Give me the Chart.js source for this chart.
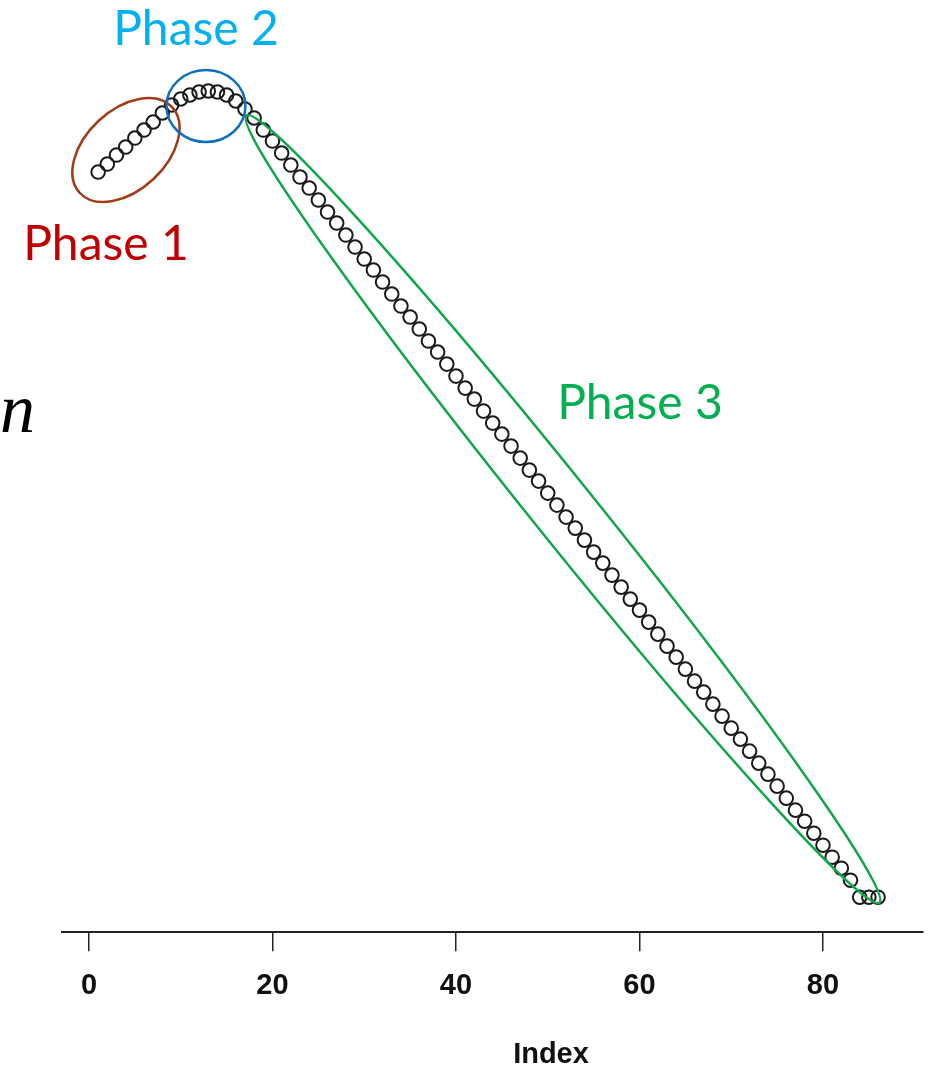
<!DOCTYPE html>
<html lang="en">
<head>
<meta charset="UTF-8">
<title>Index plot - three phases</title>
<script src="https://cdn.jsdelivr.net/npm/chart.js"></script>
<style>
    body { margin: 0; padding: 0; background: #fff; }
    .container { width: 934px; height: 1073px; position: relative; }
</style>
</head>
<body>
<div class="container">
    <canvas id="myChart"></canvas>
</div>
<script>
// x positions (Index) of every point
const indexValues = [
    1, 2, 3, 4, 5, 6, 7, 8, 9, 10, 11, 12, 13, 14, 15, 16, 17, 18, 19, 20,
    21, 22, 23, 24, 25, 26, 27, 28, 29, 30, 31, 32, 33, 34, 35, 36, 37, 38, 39, 40,
    41, 42, 43, 44, 45, 46, 47, 48, 49, 50, 51, 52, 53, 54, 55, 56, 57, 58, 59, 60,
    61, 62, 63, 64, 65, 66, 67, 68, 69, 70, 71, 72, 73, 74, 75, 76, 77, 78, 79, 80,
    81, 82, 83, 84, 85, 86
];

// values, split by phase
const phase1Values = [76.8, 77.6, 78.5, 79.3, 80.2, 81.0, 81.8, 82.7, 83.5];
const phase2Values = [84.1, 84.5, 84.8, 84.9, 84.8, 84.5, 83.9, 83.1];
const phase3Values = [
    82.2, 81.0, 79.9, 78.7, 77.5, 76.3, 75.2, 74.0, 72.8, 71.7,
    70.5, 69.3, 68.1, 67.0, 65.8, 64.6, 63.4, 62.3, 61.1, 59.9,
    58.8, 57.6, 56.4, 55.2, 54.1, 52.9, 51.7, 50.6, 49.4, 48.2,
    47.0, 45.9, 44.7, 43.5, 42.3, 41.2, 40.0, 38.8, 37.7, 36.5,
    35.3, 34.1, 33.0, 31.8, 30.6, 29.4, 28.3, 27.1, 25.9, 24.8,
    23.6, 22.4, 21.2, 20.1, 18.9, 17.7, 16.6, 15.4, 14.2, 13.0,
    11.9, 10.7, 9.5, 8.3, 7.2, 6.0, 4.3, 4.3, 4.3
];

const xTickValues = [0, 20, 40, 60, 80];
const phaseNames = ['Phase 1', 'Phase 2', 'Phase 3'];

const allValues = phase1Values.concat(phase2Values, phase3Values);
const points = indexValues.map((ix, i) => ({ x: ix, y: allValues[i] }));

// ellipses + labels, centres given in data units
const phaseMarks = [
    { name: phaseNames[0], cx: 4.03, cy: 79.0, rx: 63, ry: 40, rot: -43, ring: '#A13C16',
      text: '#C00000', tx: 1.85, ty: 68.0 },
    { name: phaseNames[1], cx: 12.75, cy: 83.4, rx: 39.5, ry: 36, rot: 0, ring: '#0E6FC1',
      text: '#00B0F0', tx: 11.66, ty: 89.5 },
    { name: phaseNames[2], cx: 51.66, cy: 43.1, rx: 505, ry: 31, rot: 51.2, ring: '#12A64C',
      text: '#00B050', tx: 60.05, ty: 52.1 }
];

const phasePlugin = {
    id: 'phasePlugin',
    afterDatasetsDraw: chart => {
        const ctx = chart.ctx;
        const x = chart.scales.x;
        const y = chart.scales.y;
        ctx.save();
        phaseMarks.forEach(m => {
            ctx.beginPath();
            ctx.ellipse(x.getPixelForValue(m.cx), y.getPixelForValue(m.cy), m.rx, m.ry,
                m.rot * Math.PI / 180, 0, Math.PI * 2);
            ctx.strokeStyle = m.ring;
            ctx.lineWidth = 2.5;
            ctx.stroke();

            ctx.font = '48px Lato, "Open Sans", sans-serif';
            ctx.fillStyle = m.text;
            ctx.textAlign = 'center';
            ctx.textBaseline = 'alphabetic';
            ctx.fillText(m.name, x.getPixelForValue(m.tx), y.getPixelForValue(m.ty));
        });

        // cut-off y label on the left edge
        ctx.font = 'italic 70px "Liberation Serif", serif';
        ctx.fillStyle = '#000';
        ctx.textAlign = 'left';
        ctx.fillText('n', 0, 432);

        // x title, centred on the original plot region
        ctx.font = 'bold 29px "Liberation Sans", Arial, sans-serif';
        ctx.textAlign = 'center';
        ctx.textBaseline = 'middle';
        ctx.fillStyle = '#111';
        ctx.fillText('Index', 551, 1055);
        ctx.restore();
    }
};

const ctx = document.getElementById('myChart').getContext('2d');
new Chart(ctx, {
    type: 'scatter',
    data: {
        datasets: [{
            data: points,
            pointStyle: 'circle',
            pointRadius: 6.8,
            pointBorderWidth: 2,
            pointBorderColor: '#1a1a1a',
            pointBackgroundColor: 'rgba(255,255,255,0)',
            showLine: false
        }]
    },
    options: {
        responsive: true,
        maintainAspectRatio: false,
        animation: false,
        layout: { padding: { top: 20, left: 62, right: 11, bottom: 53 } },
        plugins: {
            legend: { display: false },
            tooltip: { enabled: false }
        },
        scales: {
            x: {
                type: 'linear',
                min: -2.94,
                max: 90.9,
                border: { display: true, color: '#222', width: 2 },
                grid: { drawOnChartArea: false, drawTicks: true, tickLength: 19, color: '#222', lineWidth: 1.5 },
                ticks: {
                    padding: 17,
                    color: '#111',
                    autoSkip: false,
                    maxRotation: 0,
                    includeBounds: false,
                    font: { family: '"Liberation Sans", Arial, sans-serif', size: 29, weight: 'bold' }
                },
                afterBuildTicks: axis => {
                    axis.ticks = xTickValues.map(v => ({ value: v }));
                }
            },
            y: {
                display: false,
                min: 0.8,
                max: 92
            }
        }
    },
    plugins: [phasePlugin]
});
</script>
</body>
</html>
